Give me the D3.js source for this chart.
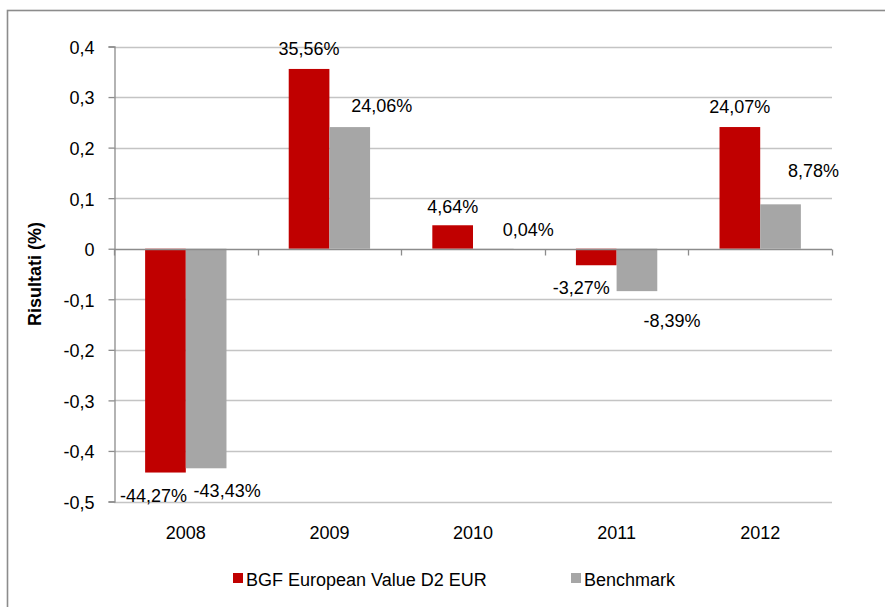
<!DOCTYPE html>
<html>
<head>
<meta charset="utf-8">
<script src="https://cdn.jsdelivr.net/npm/d3@7"></script>
<style>
  html, body { margin: 0; padding: 0; background: #fff; }
  svg { display: block; font-family: "Liberation Sans", Arial, sans-serif; }
</style>
</head>
<body>
<svg id="chart" width="885" height="607"></svg>
<script>
// ---- data ----
const categories = ["2008", "2009", "2010", "2011", "2012"];
const fundValues = [-0.4427, 0.3556, 0.0464, -0.0327, 0.2407];
const benchmarkValues = [-0.4343, 0.2406, 0.0004, -0.0839, 0.0878];
const seriesNames = ["BGF European Value D2 EUR", "Benchmark"];
const yTicks = [-0.5, -0.4, -0.3, -0.2, -0.1, 0, 0.1, 0.2, 0.3, 0.4];
const yTitle = "Risultati (%)";

// ---- layout / style ----
const colors = ["#C00000", "#A6A6A6"];
const plot = { left: 114, right: 832, top: 46.5, bottom: 501.5 };
// label nudges (Excel-style collision adjustments), per series then category
const labelDx = [[-12, 0, 0, -15, 0], [21, 32, 35, 35, 33]];
const labelDy = [[0, 0, 2, 0, 0], [0, -1, 1, 7, -13]];

const svg = d3.select("#chart");

// outer frame
svg.append("rect")
  .attr("x", 7.5).attr("y", 10.5)
  .attr("width", 1000).attr("height", 1000)
  .attr("fill", "none").attr("stroke", "#8c8c8c").attr("stroke-width", 1.6);

const x = d3.scaleBand().domain(categories).range([plot.left, plot.right]).padding(0);
const inner = d3.scaleBand().domain([0, 1]).range([0, x.bandwidth()]).paddingInner(0).paddingOuter(0.765);
const y = d3.scaleLinear().domain([-0.5, 0.4]).range([plot.bottom, plot.top]);

const fmtTick = v => d3.format(".1f")(v).replace(".", ",").replace(/^0,0$/, "0").replace(/^−/, "-").replace(/,0$/, v === 0 ? "" : ",0");
const tickLabel = v => (Math.abs(v) < 1e-9 ? "0" : d3.format(".1f")(v).replace("−", "-").replace(".", ","));
const fmtPct = v => (v * 100).toFixed(2).replace(".", ",") + "%";

// gridlines
svg.append("g").selectAll("line")
  .data(yTicks.filter(t => t !== 0))
  .join("line")
  .attr("x1", plot.left).attr("x2", plot.right)
  .attr("y1", d => Math.round(y(d)) + 0.5).attr("y2", d => Math.round(y(d)) + 0.5)
  .attr("stroke", "#c4c4c4").attr("stroke-width", 1.3);

// bars
const seriesData = [fundValues, benchmarkValues];
seriesData.forEach((vals, si) => {
  svg.append("g").selectAll("rect")
    .data(vals.map((v, i) => ({ v, cat: categories[i] })))
    .join("rect")
    .attr("x", d => x(d.cat) + inner(si))
    .attr("width", inner.bandwidth())
    .attr("y", d => Math.min(y(d.v), y(0)))
    .attr("height", d => Math.abs(y(d.v) - y(0)))
    .attr("fill", colors[si]);
});

// y axis
const yAxis = d3.axisLeft(y).tickValues(yTicks).tickSize(6).tickPadding(14).tickFormat(tickLabel);
const gy = svg.append("g").attr("transform", `translate(${plot.left + 0.5},0)`).call(yAxis);
gy.select(".domain").attr("stroke", "#8c8c8c").attr("stroke-width", 1.3);
gy.selectAll(".tick line").attr("stroke", "#8c8c8c").attr("stroke-width", 1.3);
gy.selectAll(".tick text").attr("font-size", 18).attr("fill", "#000")
  .attr("font-family", "'Liberation Sans', Arial, sans-serif").attr("dy", "0.38em");

// x axis (at zero line)
const boundaries = categories.map(c => x(c)).concat([plot.right]);
const y0 = Math.round(y(0)) + 0.5;
svg.append("line").attr("x1", plot.left).attr("x2", plot.right)
  .attr("y1", y0).attr("y2", y0).attr("stroke", "#8c8c8c").attr("stroke-width", 1.3);
svg.append("g").selectAll("line").data(boundaries).join("line")
  .attr("x1", d => Math.round(d) + 0.5).attr("x2", d => Math.round(d) + 0.5)
  .attr("y1", y0).attr("y2", y0 + 6).attr("stroke", "#8c8c8c").attr("stroke-width", 1.3);

// category labels
svg.append("g").selectAll("text").data(categories).join("text")
  .attr("x", d => x(d) + x.bandwidth() / 2)
  .attr("y", 539)
  .attr("text-anchor", "middle").attr("font-size", 18).attr("fill", "#000")
  .text(d => d);

// data labels
seriesData.forEach((vals, si) => {
  svg.append("g").selectAll("text")
    .data(vals.map((v, i) => ({ v, i, cat: categories[i] })))
    .join("text")
    .attr("x", d => x(d.cat) + inner(si) + inner.bandwidth() / 2 + labelDx[si][d.i])
    .attr("y", d => (d.v >= 0 ? y(d.v) - 14 : y(d.v) + 29) + labelDy[si][d.i])
    .attr("text-anchor", "middle").attr("font-size", 18).attr("fill", "#000")
    .text(d => fmtPct(d.v));
});

// y title
svg.append("text")
  .attr("transform", `translate(41,${(plot.top + plot.bottom) / 2}) rotate(-90)`)
  .attr("text-anchor", "middle").attr("font-size", 18).attr("font-weight", "bold")
  .attr("fill", "#000")
  .text(yTitle);

// legend
const legendX = [233, 571];
const lg = svg.append("g").selectAll("g").data(seriesNames).join("g")
  .attr("transform", (d, i) => `translate(${legendX[i]},573)`);
lg.append("rect").attr("width", 10).attr("height", 10).attr("fill", (d, i) => colors[i]);
lg.append("text").attr("x", 13).attr("y", 13).attr("font-size", 18).attr("fill", "#000").text(d => d);
</script>
</body>
</html>
